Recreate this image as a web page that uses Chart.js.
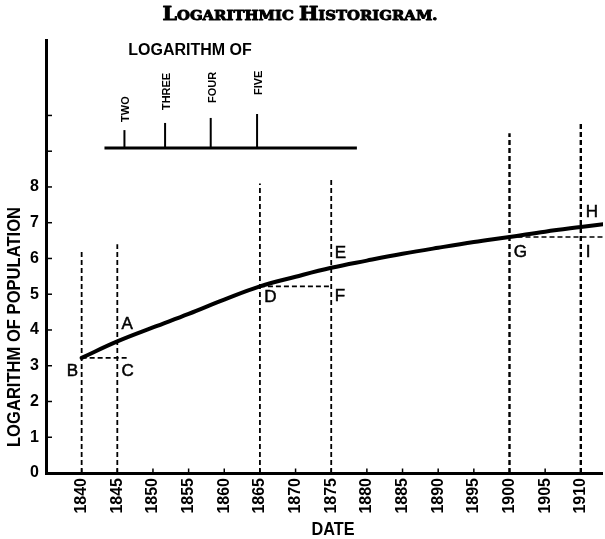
<!DOCTYPE html>
<html><head><meta charset="utf-8">
<script src="https://cdn.jsdelivr.net/npm/chart.js@4"></script>
<style>html,body{margin:0;padding:0;background:#fff}#wrap{width:605px;height:539px;position:relative}</style>
</head><body><div id="wrap"><canvas id="c"></canvas></div>
<script>
// ---- data ----
const years = [1840,1845,1850,1855,1860,1865,1870,1875,1880,1885,1890,1895,1900,1905,1910,1914];
const logPopulation = [3.22,3.68,4.07,4.45,4.85,5.22,5.49,5.74,5.94,6.13,6.30,6.46,6.60,6.75,6.88,6.98];

const xTicks = [1840,1845,1850,1855,1860,1865,1870,1875,1880,1885,1890,1895,1900,1905,1910];
const yTickLabels = [0,1,2,3,4,5,6,7,8];
const yTickMarks = [1,2,3,4,5,6,7,8,9,10];

// dashed guide verticals
const guideYears = [1840,1845,1865,1875,1900,1910];
const guideTops  = [6.24,6.40,8.10,8.20,9.50,9.76];
// dashed horizontal steps (B-C, D-F, G-I)
const stepStartYears = [1840,1865,1900];
const stepEndYears   = [1846.7,1875,1914];
const stepValues     = [3.22,5.22,6.60];

// inset "logarithm of" scale
const insetLabels  = ['TWO','THREE','FOUR','FIVE'];
const insetYears   = [1846.0,1851.7,1858.1,1864.6];
const insetHeights = [0.50,0.70,0.84,0.95];
const insetBase = 9.09, insetStart = 1843.2, insetEnd = 1878.6;
const insetLabelStarts = [9.82,10.15,10.35,10.57];

// point letters
const letterNames  = ['A','B','C','D','E','F','G','H','I'];
const letterYears  = [1845.6,1837.9,1845.6,1865.6,1875.5,1875.5,1900.6,1910.7,1910.7];
const letterValues = [4.17,2.85,2.85,4.90,6.15,4.95,6.18,7.30,6.18];

// ---- styles ----
const SANS = "'Liberation Sans',Arial,sans-serif";
const SERIF = "'DejaVu Serif','Liberation Serif',serif";
const BLACK = '#000';

const datasets = [];
guideYears.forEach((yr,i)=>datasets.push({
  data:[{x:yr,y:0},{x:yr,y:guideTops[i]}],
  borderColor:BLACK, borderWidth: i>=4 ? 2.4 : 1.8, borderDash:[5,3], pointRadius:0
}));
stepStartYears.forEach((s,i)=>datasets.push({
  data:[{x:s,y:stepValues[i]},{x:stepEndYears[i],y:stepValues[i]}],
  borderColor:BLACK, borderWidth:1.7, borderDash:[5,3], pointRadius:0
}));
datasets.push({data:[{x:insetStart,y:insetBase},{x:insetEnd,y:insetBase}],
  borderColor:BLACK, borderWidth:3, pointRadius:0});
insetYears.forEach((yr,i)=>datasets.push({
  data:[{x:yr,y:insetBase},{x:yr,y:insetBase+insetHeights[i]}],
  borderColor:BLACK, borderWidth:2, pointRadius:0
}));
datasets.push({data:years.map((x,i)=>({x,y:logPopulation[i]})),
  borderColor:BLACK, borderWidth:4, pointRadius:0, tension:0.4, borderCapStyle:'round'});

function fitText(ctx, text, x, y, font, targetW, rot){
  ctx.save();
  ctx.font = font;
  const w = ctx.measureText(text).width;
  ctx.translate(x,y);
  if(rot) ctx.rotate(rot);
  ctx.scale(targetW/w,1);
  ctx.textAlign='center'; ctx.textBaseline='middle';
  ctx.fillText(text,0,0);
  ctx.restore();
}

function drawSmallCaps(ctx, text, cx, baseY, big, small, targetW){
  const parts=[];
  text.split(' ').forEach((w,wi)=>{
    if(wi>0) parts.push({t:' ',s:small});
    parts.push({t:w[0],s:big});
    if(w.length>1) parts.push({t:w.slice(1),s:small});
  });
  let w=0;
  parts.forEach(p=>{ctx.font=`bold ${p.s}px ${SERIF}`; p.w=ctx.measureText(p.t).width; w+=p.w;});
  const sx = targetW/w;
  ctx.save();
  ctx.translate(cx - targetW/2, baseY);
  ctx.scale(sx,1);
  ctx.textAlign='left'; ctx.textBaseline='alphabetic';
  ctx.lineWidth=0.9; ctx.lineJoin='round';
  let x=0;
  parts.forEach(p=>{ctx.font=`bold ${p.s}px ${SERIF}`; ctx.fillText(p.t,x,0); ctx.strokeText(p.t,x,0); x+=p.w;});
  ctx.restore();
}

const decor = {
  id:'decor',
  afterDatasetsDraw(chart){
    const ctx=chart.ctx, xs=chart.scales.x, ys=chart.scales.y, ca=chart.chartArea;
    ctx.save();
    ctx.strokeStyle=BLACK; ctx.fillStyle=BLACK; ctx.lineWidth=1.5;
    // inward tick marks
    xTicks.forEach(v=>{const p=xs.getPixelForValue(v); ctx.beginPath(); ctx.moveTo(p,ca.bottom); ctx.lineTo(p,ca.bottom-4.5); ctx.stroke();});
    yTickMarks.forEach(v=>{const p=ys.getPixelForValue(v); ctx.beginPath(); ctx.moveTo(ca.left,p); ctx.lineTo(ca.left+6,p); ctx.stroke();});
    // letters
    ctx.font=`17px ${SANS}`; ctx.textAlign='left'; ctx.textBaseline='middle';
    letterNames.forEach((t,i)=>{
      const px=xs.getPixelForValue(letterYears[i]), py=ys.getPixelForValue(letterValues[i]);
      ctx.fillText(t,px,py); ctx.lineWidth=0.5; ctx.strokeText(t,px,py);
    });
    // inset labels
    ctx.font=`bold 11px ${SANS}`; ctx.textAlign='left'; ctx.textBaseline='middle';
    insetLabels.forEach((t,i)=>{
      ctx.save();
      ctx.translate(xs.getPixelForValue(insetYears[i])+2, ys.getPixelForValue(insetLabelStarts[i]));
      ctx.rotate(-Math.PI/2);
      ctx.fillText(t,0,0);
      ctx.restore();
    });
    ctx.font=`bold 16px ${SANS}`; ctx.textAlign='center'; ctx.textBaseline='middle';
    ctx.fillText('LOGARITHM OF', 190, 51);
    // axis titles
    fitText(ctx,'DATE',333,530,`bold 18px ${SANS}`,43,0);
    fitText(ctx,'LOGARITHM OF POPULATION',15,327,`bold 19px ${SANS}`,240,-Math.PI/2);
    // title
    drawSmallCaps(ctx,'LOGARITHMIC HISTORIGRAM.',300,20,18,13,275);
    ctx.restore();
  }
};

new Chart(document.getElementById('c'),{
  type:'line',
  data:{datasets},
  plugins:[decor],
  options:{
    responsive:true, maintainAspectRatio:false, animation:false,
    layout:{padding:{top:40,right:0,left:0,bottom:0}},
    plugins:{legend:{display:false}, title:{display:false}, tooltip:{enabled:false}},
    events:[],
    scales:{
      x:{type:'linear', min:1835, max:1913.1,
        afterBuildTicks:s=>{s.ticks=xTicks.map(v=>({value:v}));},
        afterFit:s=>{s.height=66;},
        grid:{display:false, drawTicks:false},
        border:{display:true,color:BLACK,width:3},
        ticks:{minRotation:90,maxRotation:90,autoSkip:false,padding:5,color:BLACK,
          font:{family:SANS,size:16,weight:'bold'}, callback:v=>String(v)}},
      y:{type:'linear', min:0, max:12.11,
        afterBuildTicks:s=>{s.ticks=yTickLabels.map(v=>({value:v}));},
        afterFit:s=>{s.width=46;},
        grid:{display:false, drawTicks:false},
        border:{display:true,color:BLACK,width:3},
        ticks:{padding:7,color:BLACK,font:{family:SANS,size:16,weight:'bold'}, callback:v=>String(v)}}
    }
  }
});
</script></body></html>
